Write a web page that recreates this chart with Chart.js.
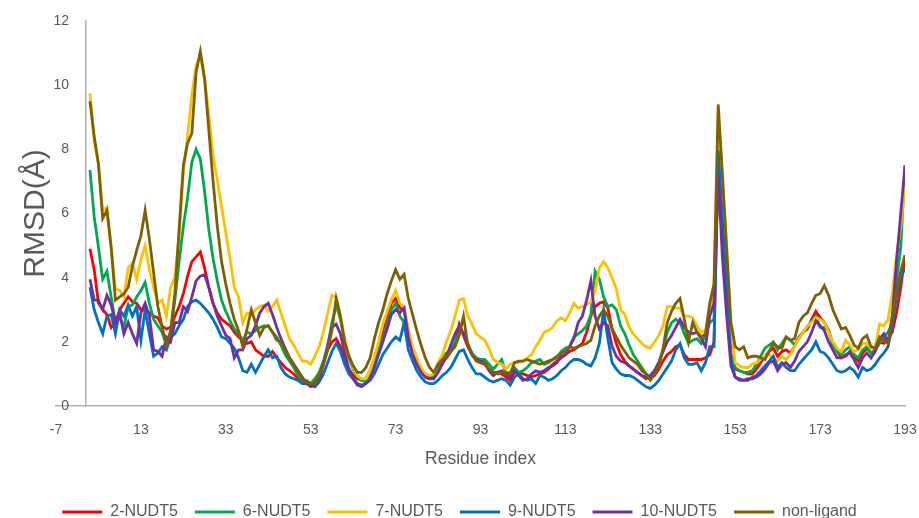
<!DOCTYPE html>
<html><head><meta charset="utf-8">
<script src="https://cdn.jsdelivr.net/npm/chart.js@4"></script>
<style>html,body{margin:0;padding:0;background:#fff;}canvas{display:block;}</style>
</head><body>
<canvas id="c" width="919" height="518"></canvas>
<script>
const residueStart = 1;
const xTickValues = [-7, 13, 33, 53, 73, 93, 113, 133, 153, 173, 193];
const yTickValues = [0, 2, 4, 6, 8, 10, 12];
const seriesNames = ['2-NUDT5', '6-NUDT5', '7-NUDT5', '9-NUDT5', '10-NUDT5', 'non-ligand'];
const seriesColors = ['#FF0000', '#00A84F', '#FFC000', '#0070C0', '#7030A0', '#7F6000'];

const rmsd2 = [
4.9,4.25,3.2,3.0,2.85,2.45,2.6,3.0,3.2,3.4,
3.25,3.2,3.0,3.0,2.9,2.8,2.75,2.5,2.4,2.45,
2.8,3.1,3.5,4.05,4.5,4.65,4.8,4.3,3.7,3.2,
2.9,2.7,2.6,2.5,2.3,2.15,2.05,1.95,2.0,1.75,
1.65,1.55,1.55,1.7,1.5,1.35,1.2,1.1,1.0,0.85,
0.75,0.7,0.65,0.8,0.95,1.3,1.75,2.0,2.1,1.85,
1.45,1.15,0.95,0.85,0.8,0.85,1.1,1.5,1.95,2.3,
2.75,3.2,3.35,3.05,3.0,2.15,1.7,1.4,1.1,0.95,
0.9,0.9,1.1,1.35,1.5,1.7,1.95,2.55,2.2,1.85,
1.6,1.45,1.35,1.3,1.15,1.05,1.05,1.0,0.9,0.8,
1.05,1.05,1.0,0.95,0.9,0.95,1.0,1.05,1.15,1.3,
1.4,1.5,1.6,1.7,1.75,1.85,1.95,2.3,2.8,3.1,
3.2,3.25,3.05,2.4,1.95,1.6,1.4,1.25,1.15,1.05,
0.95,0.85,0.9,0.95,1.15,1.4,1.6,1.7,1.85,1.9,
1.6,1.45,1.45,1.45,1.45,1.5,1.6,2.0,7.8,5.5,
3.4,1.6,1.15,1.1,1.05,1.0,1.0,1.15,1.35,1.55,
1.7,1.8,1.55,1.7,1.75,1.65,1.85,2.15,2.3,2.4,
2.7,2.95,2.75,2.6,2.35,1.95,1.7,1.5,1.55,1.7,
1.55,1.4,1.65,1.8,1.65,1.75,2.0,1.95,2.1,2.3,
2.9,3.7,4.7];

const rmsd6 = [
7.35,5.9,4.95,3.95,4.2,3.4,2.6,2.75,2.45,3.1,
3.15,3.4,3.6,3.85,3.2,2.7,2.5,2.3,1.9,2.3,
3.3,4.5,5.6,6.5,7.6,8.0,7.7,6.7,5.5,4.6,
3.9,3.3,2.95,2.65,2.4,2.25,2.05,2.3,2.25,2.35,
2.45,2.5,2.5,2.3,2.15,1.9,1.6,1.4,1.2,0.95,
0.8,0.8,0.7,0.85,1.05,1.4,1.85,2.6,3.15,2.7,
2.0,1.5,1.15,0.9,0.8,0.75,1.0,1.35,1.75,2.1,
2.55,3.0,3.2,2.8,2.6,2.1,1.7,1.35,1.1,0.9,
0.85,0.95,1.2,1.55,1.65,1.75,2.0,2.3,2.3,1.95,
1.65,1.5,1.45,1.45,1.3,1.15,1.3,1.45,1.0,1.05,
1.2,1.05,1.1,1.2,1.35,1.4,1.45,1.3,1.35,1.45,
1.5,1.7,1.8,1.85,2.15,2.25,2.35,2.5,2.85,4.2,
3.95,3.4,3.1,3.15,3.0,2.5,2.25,1.9,1.6,1.4,
1.2,1.0,0.9,1.1,1.35,1.75,2.3,2.6,2.7,2.6,
2.25,1.95,2.05,2.1,1.95,2.2,2.6,2.7,8.0,5.7,
3.6,1.6,1.2,1.1,1.05,1.05,1.1,1.3,1.55,1.8,
1.9,2.0,1.75,1.95,2.15,2.05,1.9,2.1,2.3,2.45,
2.65,2.8,2.45,2.45,2.35,1.9,1.7,1.6,1.75,1.85,
1.6,1.5,1.75,1.85,1.65,1.75,1.95,2.15,2.3,2.6,
3.9,4.95,7.5];

const rmsd7 = [
9.75,8.3,7.5,6.1,6.2,4.9,3.65,3.6,3.4,4.3,
4.45,3.95,4.55,5.0,4.25,3.7,3.2,3.3,2.8,3.7,
4.0,5.3,7.3,8.4,9.7,10.6,10.9,10.2,9.1,7.8,
7.05,6.2,5.4,4.6,3.7,3.4,2.6,2.9,2.85,3.0,
3.1,3.15,2.95,3.1,3.3,2.9,2.5,2.1,1.9,1.65,
1.4,1.4,1.3,1.55,1.85,2.3,2.9,3.45,3.4,2.8,
2.1,1.6,1.2,0.95,0.85,0.85,1.1,1.55,2.0,2.55,
2.95,3.3,3.6,3.2,3.1,2.4,1.85,1.5,1.2,1.0,
0.95,1.0,1.35,1.6,2.0,2.35,2.8,3.3,3.35,2.8,
2.55,2.25,2.15,2.05,1.8,1.45,1.35,1.3,1.15,1.3,
1.35,1.35,1.4,1.5,1.6,1.85,2.05,2.3,2.35,2.45,
2.65,2.75,2.65,2.9,3.2,3.05,3.1,3.15,3.25,3.6,
4.3,4.5,4.3,4.0,3.65,3.0,2.85,2.45,2.25,2.1,
1.95,1.85,1.8,2.0,2.2,2.5,3.1,3.1,3.05,3.05,
2.8,2.8,2.75,2.5,2.3,2.35,2.9,3.6,9.1,7.0,
5.0,2.4,1.35,1.25,1.2,1.2,1.3,1.35,1.45,1.55,
1.6,1.5,1.4,1.55,1.45,1.6,1.85,2.1,2.3,2.5,
2.6,2.75,2.7,2.6,2.3,2.0,1.8,1.7,2.05,1.9,
1.7,1.75,1.95,1.95,1.8,1.85,2.55,2.5,2.7,3.5,
4.7,5.6,6.85];

const rmsd9 = [
3.7,3.0,2.6,2.25,2.8,2.85,2.25,3.0,2.8,3.15,
2.8,3.1,2.05,3.0,2.25,1.55,1.65,1.85,1.75,2.15,
2.25,2.5,2.7,3.1,3.25,3.3,3.2,3.05,2.9,2.7,
2.45,2.15,2.1,1.95,1.8,1.5,1.1,1.05,1.3,1.05,
1.3,1.55,1.75,1.5,1.55,1.2,1.0,0.9,0.85,0.8,
0.7,0.7,0.65,0.6,0.75,1.0,1.35,1.7,1.95,1.7,
1.3,1.0,0.85,0.7,0.65,0.7,0.8,1.0,1.3,1.6,
1.8,2.0,2.15,2.05,2.6,1.75,1.4,1.1,0.9,0.75,
0.7,0.7,0.8,0.95,1.05,1.2,1.45,1.7,1.75,1.45,
1.2,1.0,1.0,0.9,0.8,0.75,0.8,0.85,0.8,0.65,
0.9,1.0,0.85,0.8,0.85,0.7,0.95,0.9,0.8,0.85,
0.95,1.1,1.2,1.35,1.45,1.45,1.4,1.3,1.25,1.5,
1.95,3.0,2.1,1.35,1.15,1.0,0.95,0.95,0.9,0.8,
0.7,0.6,0.55,0.65,0.8,1.0,1.2,1.4,1.75,1.95,
1.5,1.3,1.3,1.35,1.1,1.35,1.85,1.85,7.95,5.7,
3.6,1.45,0.9,0.8,0.8,0.8,0.9,0.95,1.1,1.25,
1.4,1.55,1.2,1.35,1.2,1.1,1.1,1.3,1.45,1.6,
1.75,2.0,1.7,1.65,1.5,1.3,1.1,1.05,1.1,1.2,
1.1,0.9,1.2,1.1,1.15,1.3,1.5,1.65,1.85,2.5,
3.4,4.0,4.3];

const rmsd10 = [
3.95,3.3,3.3,3.0,3.45,3.15,2.6,2.9,2.25,2.6,
2.25,1.95,2.9,3.2,2.8,1.75,1.7,1.55,2.15,2.0,
2.6,2.6,3.1,2.95,3.4,3.9,4.05,4.1,3.7,3.2,
2.8,2.5,2.2,2.1,1.5,1.75,1.75,2.1,2.2,2.5,
2.9,3.1,3.2,2.85,2.45,2.1,1.8,1.5,1.3,1.1,
0.9,0.7,0.6,0.65,0.85,1.3,1.9,2.45,2.55,2.25,
1.65,1.15,0.85,0.65,0.6,0.7,0.85,1.2,1.6,2.0,
2.4,2.85,3.0,2.9,3.05,2.15,1.6,1.3,1.05,0.9,
0.85,0.85,1.05,1.3,1.55,1.9,2.25,2.5,2.25,1.9,
1.6,1.45,1.4,1.35,1.1,0.95,1.05,1.1,1.0,0.9,
1.1,0.95,0.8,0.85,1.0,1.1,1.05,1.1,1.2,1.25,
1.35,1.55,1.6,1.85,2.1,2.6,2.8,3.3,3.9,2.8,
2.4,2.6,2.5,1.85,1.55,1.4,1.35,1.25,1.15,1.05,
0.95,0.9,0.95,1.1,1.35,1.7,2.0,2.2,2.45,2.7,
2.45,2.3,2.25,2.3,2.1,1.85,2.8,3.2,7.2,4.6,
2.8,1.25,0.9,0.85,0.8,0.85,0.85,0.9,1.0,1.15,
1.35,1.4,1.1,1.3,1.35,1.2,1.4,1.7,1.85,2.0,
2.3,2.65,2.5,2.35,2.0,1.75,1.5,1.5,1.6,1.65,
1.45,1.2,1.5,1.65,1.5,1.7,2.1,2.25,1.95,2.8,
4.5,6.0,7.5];

const rmsdNonLigand = [
9.5,8.4,7.55,5.85,6.1,4.95,3.3,3.4,3.5,3.7,
4.35,4.85,5.3,6.1,5.2,4.15,3.1,2.45,1.9,2.35,
3.5,5.5,7.5,8.2,8.5,10.4,11.05,10.2,8.6,7.0,
5.6,4.5,3.8,3.2,2.7,2.35,1.85,2.4,3.0,2.6,
2.2,2.45,2.5,2.3,2.05,2.0,1.75,1.5,1.3,1.1,
0.85,0.75,0.7,0.7,0.95,1.35,1.75,2.35,3.35,2.8,
2.0,1.55,1.25,1.05,1.05,1.2,1.5,2.1,2.6,3.0,
3.5,3.9,4.25,3.95,4.1,3.35,2.85,2.35,1.9,1.5,
1.2,1.05,1.3,1.45,1.55,1.7,1.85,2.2,2.8,1.9,
1.6,1.4,1.35,1.35,1.15,1.05,1.0,1.05,1.05,1.0,
1.35,1.4,1.4,1.45,1.4,1.35,1.3,1.35,1.4,1.45,
1.55,1.65,1.7,1.85,1.8,1.85,1.9,1.95,2.05,2.5,
2.8,3.0,2.8,2.4,2.15,1.9,1.7,1.5,1.4,1.3,
1.1,1.0,0.8,1.0,1.25,1.8,2.6,2.95,3.2,3.35,
2.7,2.0,2.6,2.3,2.15,2.25,3.2,3.8,9.4,7.2,
4.85,2.6,1.85,1.75,1.85,1.5,1.55,1.55,1.5,1.45,
1.7,1.95,1.85,1.8,2.15,2.05,2.1,2.6,2.8,2.9,
3.2,3.45,3.5,3.75,3.45,3.0,2.7,2.4,2.45,2.2,
1.9,1.8,2.1,2.2,1.85,1.8,2.15,2.05,1.95,2.8,
3.6,4.2,4.7];

const seriesValues = [rmsd2, rmsd6, rmsd7, rmsd9, rmsd10, rmsdNonLigand];
const FONT = "'Liberation Sans', Arial, sans-serif";
const TEXT = '#595959';
const AXIS = '#B4B4B4';

const datasets = seriesValues.map((vals, s) => ({
  label: seriesNames[s],
  data: vals.map((v, i) => ({x: residueStart + i, y: v})),
  borderColor: seriesColors[s],
  backgroundColor: seriesColors[s],
  borderWidth: 2.8,
  pointRadius: 0,
  tension: 0,
  order: seriesValues.length - s
}));

new Chart(document.getElementById('c'), {
  type: 'line',
  data: {datasets},
  options: {
    responsive: false,
    animation: false,
    layout: {padding: {left: 0, right: 0, top: 21, bottom: -12}},
    plugins: {
      tooltip: {enabled: false},
      legend: {
        position: 'bottom',
        labels: {
          boxWidth: 40, boxHeight: 3, padding: 17, color: TEXT,
          font: {family: FONT, size: 16},
          sort: (a, b) => a.datasetIndex - b.datasetIndex,
          generateLabels: (chart) => {
            const items = Chart.defaults.plugins.legend.labels.generateLabels(chart);
            items.forEach(it => { it.lineWidth = 0; });
            return items;
          }
        }
      }
    },
    scales: {
      x: {
        type: 'linear', min: -7, max: 193,
        afterBuildTicks: (scale) => { scale.ticks = xTickValues.map(v => ({value: v})); },
        afterFit: (scale) => { scale.height = 81; scale.paddingLeft = 0; scale.paddingRight = 14; },
        grid: {display: false, drawTicks: false},
        border: {display: true, color: AXIS, width: 1.5},
        ticks: {color: TEXT, font: {family: FONT, size: 14}, padding: 16, maxRotation: 0, autoSkip: false},
        title: {display: true, text: 'Residue index', color: TEXT, font: {family: FONT, size: 17.5}, padding: {top: 0, bottom: 17}}
      },
      y: {
        type: 'linear', position: {x: -3.9}, min: 0, max: 12,
        afterBuildTicks: (scale) => { scale.ticks = yTickValues.map(v => ({value: v})); },
        grid: {display: false, drawTicks: false},
        border: {display: false},
        ticks: {color: TEXT, font: {family: FONT, size: 14}, padding: 0}
      },
      yTitle: {
        type: 'linear', position: 'left', min: 0, max: 12,
        afterFit: (scale) => { scale.width = 56; },
        grid: {display: false, drawTicks: false},
        border: {display: false},
        ticks: {display: false},
        title: {display: true, text: 'RMSD(Å)', color: TEXT, font: {family: FONT, size: 30}, padding: {top: 18, bottom: 0}}
      },
      yLine: {
        type: 'linear', position: {x: 0}, min: 0, max: 12,
        grid: {display: false, drawTicks: false},
        border: {display: true, color: AXIS, width: 1.5},
        ticks: {display: false}
      }
    }
  }
});
</script>
</body></html>
